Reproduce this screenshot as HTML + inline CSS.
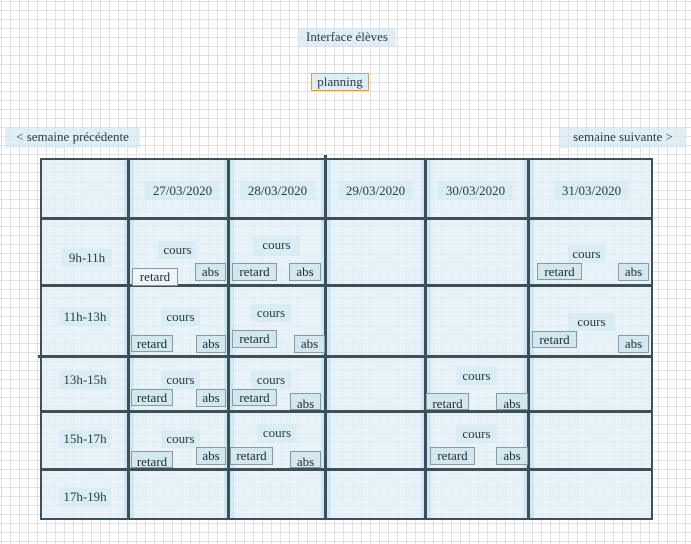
<!DOCTYPE html>
<html><head><meta charset="utf-8"><style>
body{margin:0;width:691px;height:544px;overflow:hidden;position:relative;background-color:#fff;
background-image:linear-gradient(to right,#e0e0e0 1px,transparent 1px),linear-gradient(to bottom,#e0e0e0 1px,transparent 1px);
background-size:9px 9px;background-position:1px 1px;font-family:"Liberation Serif",serif;color:#2e3a44}
div{position:absolute;box-sizing:border-box}
.lab{background:rgba(214,233,241,.75);font-size:13px;text-align:center;line-height:17px}
.btn{background:#d3e7ef;border:1px solid #8a9aa2;font-size:13px;text-align:center;line-height:16px;color:#1f2a33}
.v{background:#3f4f58;width:3px}
.h{background:#3f4f58;height:3px}
.vs{background:rgba(190,225,238,.6);width:10px}
</style></head><body>
<div class="lab" style="left:298px;top:28px;width:98px;height:18px">Interface élèves</div>
<div class="lab" style="left:311px;top:73px;width:58px;height:18px;border:1px solid #e0a040;line-height:16px">planning</div>
<div class="lab" style="left:5px;top:128px;width:135px;height:20px;line-height:18px">&lt; semaine précédente</div>
<div class="lab" style="left:560px;top:128px;width:126px;height:20px;line-height:18px">semaine suivante &gt;</div>

<div style="left:40px;top:158px;width:613px;height:362px;background:rgba(225,240,247,.8)"></div>
<div class="vs" style="left:124px;top:158px;height:362px"></div>
<div class="vs" style="left:224px;top:158px;height:362px"></div>
<div class="vs" style="left:321px;top:158px;height:362px"></div>
<div class="vs" style="left:421px;top:158px;height:362px"></div>
<div class="vs" style="left:524px;top:158px;height:362px"></div>
<div style="left:40px;top:158px;width:613px;height:362px;border:2px solid #3f4f58"></div>
<div class="v" style="left:127px;top:158px;height:362px"></div>
<div class="v" style="left:227px;top:158px;height:362px"></div>
<div class="v" style="left:324px;top:155px;height:365px"></div>
<div class="v" style="left:424px;top:158px;height:362px"></div>
<div class="v" style="left:527px;top:158px;height:362px"></div>
<div class="h" style="left:42px;top:217px;width:610px"></div>
<div class="h" style="left:42px;top:284px;width:610px"></div>
<div class="h" style="left:38px;top:355px;width:614px"></div>
<div class="h" style="left:42px;top:410px;width:610px"></div>
<div class="h" style="left:42px;top:468px;width:610px"></div>

<div class="lab" style="left:145px;top:181px;width:75px;height:19px;line-height:19px">27/03/2020</div>
<div class="lab" style="left:240px;top:181px;width:75px;height:19px;line-height:19px">28/03/2020</div>
<div class="lab" style="left:338px;top:181px;width:75px;height:19px;line-height:19px">29/03/2020</div>
<div class="lab" style="left:438px;top:181px;width:75px;height:19px;line-height:19px">30/03/2020</div>
<div class="lab" style="left:554px;top:181px;width:75px;height:19px;line-height:19px">31/03/2020</div>

<div class="lab" style="left:62px;top:249px;width:50px;height:18px">9h-11h</div>
<div class="lab" style="left:59px;top:308px;width:52px;height:18px">11h-13h</div>
<div class="lab" style="left:59px;top:371px;width:52px;height:18px">13h-15h</div>
<div class="lab" style="left:59px;top:430px;width:52px;height:18px">15h-17h</div>
<div class="lab" style="left:59px;top:488px;width:52px;height:18px">17h-19h</div>

<div class="lab" style="left:158px;top:241px;width:39px;height:18px">cours</div>
<div class="btn" style="left:132px;top:268px;width:46px;height:18px;background:#eef5f8">retard</div>
<div class="btn" style="left:195px;top:263px;width:31px;height:18px">abs</div>
<div class="lab" style="left:253px;top:236px;width:47px;height:20px">cours</div>
<div class="btn" style="left:232px;top:263px;width:45px;height:18px">retard</div>
<div class="btn" style="left:289px;top:263px;width:32px;height:18px">abs</div>
<div class="lab" style="left:568px;top:245px;width:37px;height:18px">cours</div>
<div class="btn" style="left:537px;top:263px;width:45px;height:17px">retard</div>
<div class="btn" style="left:618px;top:263px;width:31px;height:18px">abs</div>

<div class="lab" style="left:161px;top:308px;width:39px;height:18px">cours</div>
<div class="btn" style="left:131px;top:335px;width:42px;height:17px">retard</div>
<div class="btn" style="left:196px;top:335px;width:30px;height:18px">abs</div>
<div class="lab" style="left:251px;top:304px;width:40px;height:18px">cours</div>
<div class="btn" style="left:232px;top:330px;width:45px;height:18px">retard</div>
<div class="btn" style="left:294px;top:335px;width:31px;height:18px">abs</div>
<div class="lab" style="left:568px;top:313px;width:47px;height:18px">cours</div>
<div class="btn" style="left:532px;top:331px;width:45px;height:17px">retard</div>
<div class="btn" style="left:618px;top:335px;width:31px;height:18px">abs</div>

<div class="lab" style="left:161px;top:371px;width:39px;height:18px">cours</div>
<div class="btn" style="left:131px;top:389px;width:42px;height:17px">retard</div>
<div class="btn" style="left:196px;top:389px;width:30px;height:18px">abs</div>
<div class="lab" style="left:251px;top:371px;width:40px;height:18px">cours</div>
<div class="btn" style="left:232px;top:389px;width:45px;height:17px">retard</div>
<div class="btn" style="left:290px;top:393px;width:31px;height:17px;line-height:20px;overflow:hidden">abs</div>
<div class="lab" style="left:456px;top:367px;width:41px;height:18px">cours</div>
<div class="btn" style="left:426px;top:393px;width:43px;height:17px;line-height:20px;overflow:hidden">retard</div>
<div class="btn" style="left:496px;top:393px;width:32px;height:17px;line-height:20px;overflow:hidden">abs</div>

<div class="lab" style="left:161px;top:430px;width:39px;height:18px">cours</div>
<div class="btn" style="left:131px;top:451px;width:42px;height:17px;line-height:20px;overflow:hidden">retard</div>
<div class="btn" style="left:196px;top:447px;width:30px;height:18px">abs</div>
<div class="lab" style="left:257px;top:424px;width:40px;height:18px">cours</div>
<div class="btn" style="left:230px;top:447px;width:43px;height:18px">retard</div>
<div class="btn" style="left:290px;top:451px;width:31px;height:17px;line-height:20px;overflow:hidden">abs</div>
<div class="lab" style="left:456px;top:425px;width:41px;height:18px">cours</div>
<div class="btn" style="left:430px;top:447px;width:45px;height:18px">retard</div>
<div class="btn" style="left:496px;top:447px;width:32px;height:18px">abs</div>
</body></html>
